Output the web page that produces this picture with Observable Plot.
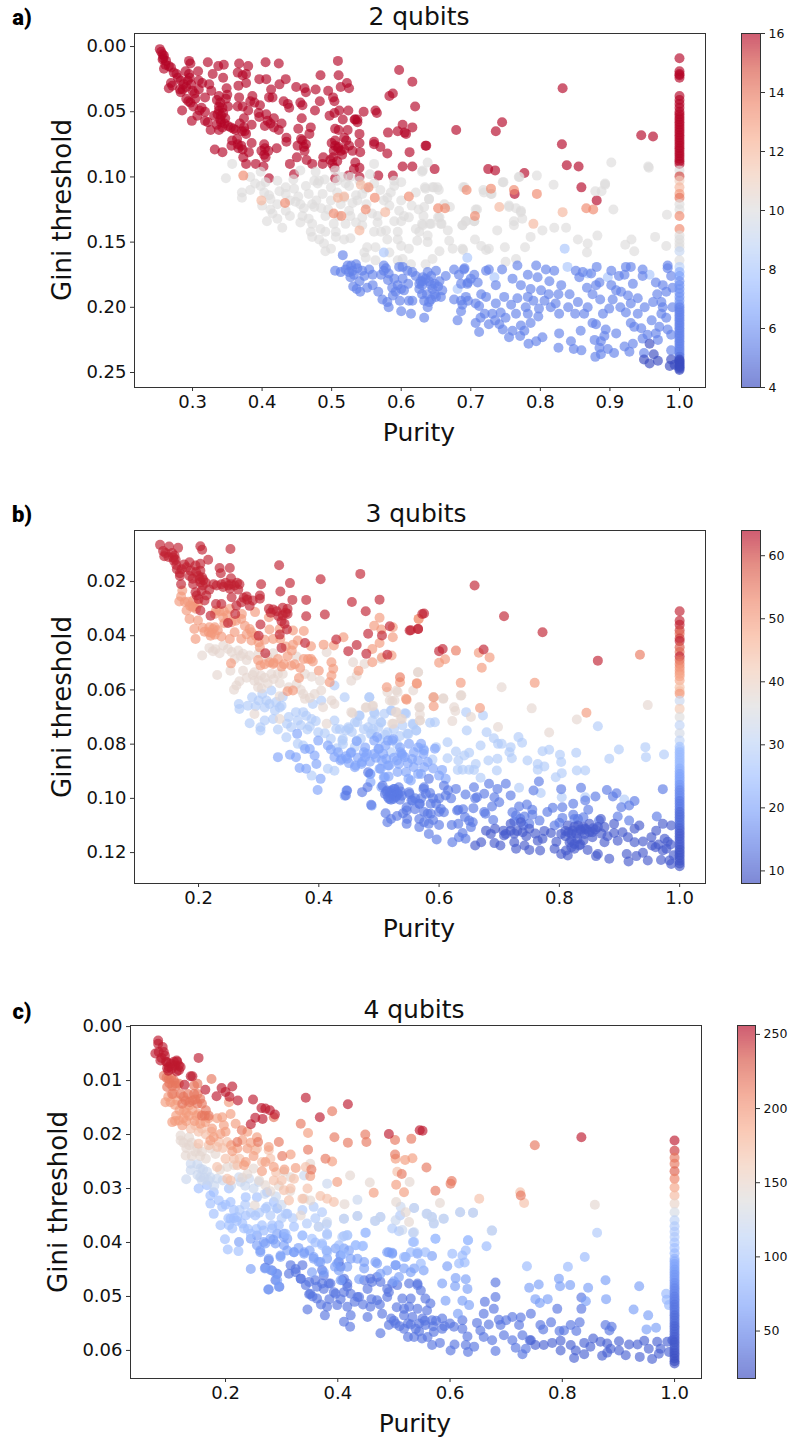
<!DOCTYPE html>
<html><head><meta charset="utf-8">
<script src="https://cdn.jsdelivr.net/npm/d3@7"></script>
<script src="https://cdn.jsdelivr.net/npm/@observablehq/plot@0.6"></script>
<style>
html,body{margin:0;padding:0;background:#fff}
#page{position:relative;width:788px;height:1440px;overflow:hidden;font-family:"DejaVu Sans",sans-serif;color:#111}
#page svg{position:absolute;display:block;background:transparent}
.t{position:absolute;white-space:nowrap;transform:translate(-50%,-50%)}
.title{font-size:25px}.xl{font-size:25px}.yl{font-size:26px;transform:translate(-50%,-50%) rotate(-90deg)}
.tag{font-family:Roboto,sans-serif;font-weight:900;font-size:22px;color:#000}
</style></head><body><div id="page"></div>
<script>
// Panel a (2 qubits): purity,gini pairs by rank
const a16=[.253,.002,.257,.006,.259,.007,.257,.010,.261,.014,.259,.017,.269,.016,.273,.020,.269,.028,.266,.032,.283,.026,.282,.033,.283,.035,.293,.026,.295,.021,.29,.019,.295,.011,.297,.013,.322,.012,.308,.019,.309,.026,.314,.028,.309,.033,.324,.029,.329,.021,.337,.015,.345,.014,.344,.024,.349,.032,.367,.013,.38,.015,.365,.02,.377,.021,.372,.022,.377,.028,.366,.03,.396,.025,.406,.025,.405,.012,.424,.013,.434,.025,.425,.029,.413,.033,.449,.031,.461,.032,.463,.035,.477,.033,.484,.022,.509,.011,.51,.022,.522,.028,.513,.031,.525,.032,.495,.034,.502,.039,.504,.042,.483,.042,.455,.043,.431,.042,.437,.044,.439,.047,.41,.039,.415,.039,.386,.038,.383,.042,.389,.043,.397,.045,.367,.039,.365,.046,.372,.046,.35,.037,.338,.038,.348,.04,.351,.046,.338,.046,.338,.049,.341,.053,.331,.053,.347,.055,.341,.058,.338,.064,.318,.039,.304,.04,.294,.042,.297,.043,.31,.049,.318,.05,.285,.049,.307,.053,.299,.057,.318,.057,.322,.058,.326,.064,.355,.062,.362,.064,.374,.055,.375,.065,.374,.062,.377,.067,.385,.06,.395,.051,.406,.052,.417,.055,.408,.057,.404,.061,.417,.062,.424,.064,.428,.059,.435,.07,.457,.055,.452,.063,.47,.062,.468,.067,.456,.071,.463,.075,.451,.076,.461,.08,.45,.085,.464,.087,.472,.09,.44,.09,.446,.098,.421,.078,.403,.075,.404,.078,.403,.083,.385,.074,.364,.071,.365,.075,.372,.079,.356,.076,.343,.081,.332,.079,.373,.085,.377,.09,.391,.09,.402,.092,.41,.101,.504,.051,.511,.049,.497,.053,.524,.049,.546,.05,.563,.049,.565,.051,.516,.056,.533,.056,.537,.058,.505,.063,.51,.064,.523,.064,.54,.067,.518,.07,.521,.072,.505,.072,.509,.078,.513,.08,.525,.076,.54,.074,.561,.073,.561,.075,.57,.077,.541,.081,.488,.085,.502,.085,.487,.09,.501,.09,.504,.093,.534,.089,.54,.093,.532,.094,.524,.099,.54,.1,.505,.101,.567,.099,.58,.082,.581,.066,.595,.065,.602,.06,.605,.066,.607,.067,.616,.062,.62,.046,.583,.038,.588,.036,.597,.018,.616,.027,.612,.081,.636,.076,.602,.092,.616,.092,.588,.099,.635,.076,.648,.094,.679,.064,.736,.065,.745,.058,.725,.094,.735,.095,.777,.097,.763,.113,.832,.032,.831,.075,.838,.091,.855,.092,.859,.108,.881,.118,.945,.068,.962,.069];
const a16More=[.255,.004,.258,.009,.262,.011,.266,.015,.277,.021,.279,.024,.271,.03,.287,.029,.291,.031,.286,.033,.296,.024,.298,.029,.3,.034,.303,.036,.291,.04,.301,.046,.313,.047,.327,.034,.335,.041,.34,.043,.343,.047,.336,.052,.344,.051,.34,.056,.346,.059,.335,.06,.343,.062,.351,.061,.359,.063,.368,.059,.371,.065,.38,.049,.396,.054,.412,.059,.357,.072,.366,.078,.37,.076,.381,.081,.399,.08,.405,.085,.409,.08,.435,.073,.458,.072,.46,.077,.5,.074,.505,.076,.51,.077,.515,.083,.518,.079,.503,.08,.498,.087,.508,.088,.534,.056,.537,.056,.458,.045,.476,.049,.53,.08];
const a135=[.694,.11,.729,.109,.762,.11,.795,.113,.653,.124,.663,.124,.706,.13,.866,.124,.876,.125,.373,.099,.433,.12,.503,.128,.514,.13,.549,.125,.562,.116,.553,.108,.611,.115];
const a12=[.741,.123,.832,.127,.79,.136,.399,.118,.577,.127,.509,.116,.518,.115,.54,.141,.542,.106];
const a10=[.348,.101,.357,.09,.371,.112,.371,.116,.383,.11,.398,.107,.398,.096,.383,.1,.403,.112,.41,.114,.412,.117,.4,.122,.412,.125,.415,.128,.407,.134,.422,.132,.429,.139,.44,.13,.434,.126,.422,.121,.422,.103,.434,.108,.434,.113,.446,.109,.448,.119,.455,.121,.463,.107,.467,.113,.475,.103,.477,.096,.48,.105,.472,.121,.475,.123,.458,.13,.455,.135,.467,.132,.472,.136,.47,.142,.472,.146,.482,.148,.489,.151,.491,.157,.499,.155,.484,.14,.491,.142,.503,.136,.506,.142,.506,.146,.518,.148,.527,.147,.52,.136,.527,.13,.525,.126,.491,.13,.499,.118,.508,.112,.518,.116,.535,.114,.537,.118,.544,.113,.525,.107,.508,.103,.499,.108,.487,.113,.482,.103,.455,.095,.561,.09,.58,.116,.583,.122,.566,.13,.566,.135,.561,.142,.571,.142,.578,.141,.58,.148,.595,.148,.6,.153,.611,.155,.597,.126,.604,.13,.59,.134,.6,.134,.595,.142,.611,.131,.621,.14,.626,.142,.623,.149,.638,.145,.638,.15,.631,.137,.643,.136,.655,.131,.657,.136,.667,.141,.669,.149,.674,.155,.688,.155,.688,.137,.635,.109,.645,.108,.652,.108,.64,.117,.633,.123,.621,.112,.59,.103,.6,.104,.59,.107,.563,.154,.547,.158,.551,.154,.549,.162,.563,.164,.583,.158,.595,.164,.602,.163,.614,.167,.635,.167,.645,.163,.655,.157,.544,.131,.544,.137,.535,.135,.549,.109,.527,.1,.561,.105,.631,.095,.638,.089,.691,.108,.707,.125,.693,.134,.705,.134,.688,.137,.746,.104,.718,.11,.729,.113,.755,.122,.765,.124,.772,.126,.774,.132,.762,.134,.762,.137,.738,.141,.795,.099,.77,.1,.819,.106,.803,.141,.786,.146,.82,.139,.837,.139,.854,.148,.868,.151,.867,.158,.882,.145,.893,.105,.888,.111,.879,.111,.905,.125,.955,.092,.902,.089,.982,.129,.965,.146,.981,.153,.931,.148,.922,.152,.935,.157,.706,.148,.715,.153,.726,.155,.722,.156,.749,.154,.778,.154,.689,.156,.75,.165,.765,.163,.956,.093,.893,.106,.769,.1,.747,.104,.63,.096,.634,.108,.647,.108,.654,.11,.689,.108,.719,.112,.73,.113,.64,.117,.67,.123,.662,.121,.653,.131,.641,.136,.63,.136,.658,.136,.693,.134,.705,.134,.709,.125,.755,.123,.772,.127];
const a10More=[.39,.105,.405,.104,.425,.111,.44,.118,.445,.102,.452,.115,.46,.124,.478,.118,.485,.124,.495,.125,.513,.121,.51,.13,.53,.12,.55,.121,.558,.128,.57,.11,.575,.118,.585,.112,.6,.118,.615,.122,.625,.125,.632,.13,.49,.102,.52,.105,.54,.103,.555,.098,.505,.095,.515,.1];
const a8=[.835,.155,.695,.162,.839,.169,.868,.174,.734,.177,.957,.175,.897,.177,.575,.158,.681,.186];
const a6=[.516,.16,.505,.172,.513,.173,.523,.168,.525,.173,.527,.177,.535,.167,.544,.172,.554,.171,.559,.175,.575,.168,.571,.175,.575,.172,.597,.169,.602,.169,.609,.172,.616,.173,.621,.176,.631,.177,.631,.18,.638,.173,.65,.172,.643,.176,.664,.176,.655,.18,.648,.182,.643,.183,.54,.18,.531,.184,.536,.186,.541,.188,.551,.185,.559,.183,.567,.188,.581,.179,.59,.178,.602,.178,.595,.183,.6,.186,.604,.187,.588,.191,.573,.194,.58,.196,.582,.2,.598,.195,.6,.203,.611,.195,.616,.195,.614,.205,.633,.208,.626,.186,.626,.182,.633,.195,.638,.2,.643,.194,.65,.192,.657,.192,.659,.187,.676,.171,.683,.175,.691,.17,.686,.182,.696,.181,.676,.194,.686,.195,.688,.198,.686,.203,.681,.21,.696,.195,.69,.171,.705,.175,.695,.182,.71,.181,.693,.192,.707,.197,.722,.172,.726,.171,.745,.171,.767,.168,.736,.183,.76,.178,.772,.183,.782,.175,.794,.168,.808,.171,.82,.172,.796,.177,.813,.18,.83,.183,.842,.19,.801,.187,.786,.186,.748,.192,.767,.193,.782,.192,.806,.195,.854,.196,.822,.197,.815,.2,.722,.192,.736,.197,.758,.198,.779,.2,.798,.201,.712,.199,.714,.208,.731,.205,.743,.204,.782,.205,.797,.207,.827,.205,.707,.212,.726,.213,.741,.213,.712,.219,.746,.217,.76,.218,.755,.223,.772,.214,.786,.212,.777,.218,.771,.222,.803,.223,.794,.226,.783,.228,.827,.22,.858,.218,.826,.231,.844,.226,.848,.232,.859,.233,.851,.172,.861,.173,.856,.177,.881,.169,.873,.174,.885,.181,.88,.183,.867,.185,.875,.19,.886,.194,.902,.172,.913,.176,.921,.175,.923,.169,.93,.169,.947,.171,.947,.176,.902,.183,.909,.187,.916,.188,.926,.191,.933,.182,.904,.194,.899,.201,.868,.2,.863,.205,.875,.212,.88,.213,.894,.217,.909,.22,.892,.222,.878,.225,.887,.226,.885,.231,.897,.232,.906,.235,.887,.236,.879,.238,.933,.228,.921,.23,.928,.234,.966,.181,.976,.183,.983,.168,.983,.17,.988,.176,.981,.188,.974,.196,.976,.2,.95,.2,.94,.193,.93,.197,.923,.204,.93,.212,.935,.215,.945,.216,.971,.215,.974,.205,.981,.208,.983,.217,.988,.221,.954,.221,.966,.22,.947,.224,.969,.225,.988,.233,.949,.235];
const a6More=[.52,.171,.528,.168,.532,.175,.53,.172,.537,.17,.547,.176,.578,.17,.582,.174,.63,.183,.635,.178,.628,.18,.64,.18,.653,.184,.645,.186,.637,.19,.648,.19,.64,.196,.63,.19,.61,.182,.587,.185,.592,.188,.7,.178,.715,.19,.72,.205,.735,.21,.75,.208,.765,.205,.79,.195,.812,.19,.826,.19,.84,.2,.85,.205,.89,.205,.915,.2,.94,.205,.96,.21,.962,.196,.968,.19,.99,.2,.99,.185];
const a4=[.957,.228,.963,.236,.949,.24,.957,.243,.969,.241,.988,.24,.986,.245,.993,.244];
const aColumn=[.009,16,.019,16,.021,16,.022,16,.024,16,.038,16,.041,16,.044,16,.047,16,.05,16,.052,16,.054,16,.056,16,.058,16,.06,16,.062,16,.064,16,.066,16,.068,16,.07,16,.072,16,.074,16,.076,16,.078,16,.08,16,.082,16,.084,16,.086,16,.088,16,.09,16,.095,10,.0996,15,.103,11,.108,12,.113,13,.116,14,.121,10,.125,10,.13,13.5,.14,13.5,.145,10,.148,10,.151,10,.154,10,.157,9,.164,10,.169,8.5,.173,7,.176,6.5,.18,6,.183,6,.186,6,.189,6,.192,6,.195,6,.198,6,.2,5.5,.202,5.5,.204,5.5,.206,5.5,.208,5.5,.21,5.5,.212,5.5,.214,5.5,.216,5.5,.218,5.5,.22,5.5,.222,5.5,.224,5.5,.226,5.5,.228,5.5,.23,5.5,.232,5.5,.234,5.5,.236,5.5,.238,5,.24,4,.241,4,.242,4,.243,4,.244,4,.245,4,.246,4,.247,4,.248,4];
// Panel b (3 qubits)
const b62=[.136,.0065,.151,.0071,.166,.0076,.203,.007,.206,.0083,.253,.008,.141,.0088,.143,.0107,.16,.0104,.159,.0123,.163,.0139,.176,.0137,.185,.0129,.195,.0141,.203,.0135,.216,.012,.203,.016,.235,.015,.237,.017,.252,.015,.334,.014,.169,.017,.169,.018,.185,.018,.19,.019,.171,.021,.191,.021,.203,.0203,.207,.0215,.218,.023,.238,.021,.241,.022,.254,.0188,.254,.021,.252,.0227,.268,.021,.266,.023,.304,.021,.352,.0206,.403,.0192,.469,.0172,.213,.0252,.197,.0252,.21,.027,.255,.0258,.302,.0252,.302,.0264,.336,.0237,.356,.0268,.379,.0268,.501,.0267,.455,.0276,.271,.0277,.281,.0267,.263,.0289,.285,.029,.203,.0307,.22,.0326,.229,.0283,.238,.0283,.261,.032,.317,.0301,.324,.0303,.34,.0297,.348,.0301,.333,.0328,.348,.032,.379,.0328,.41,.0322,.478,.031,.572,.032,.338,.0347,.343,.0356,.303,.0359,.249,.0353,.347,.0377,.518,.0365,.551,.0381,.565,.0375,.482,.0393,.505,.0399,.3,.04,.335,.0396,.429,.0414,.377,.0427,.449,.0457,.463,.0434,.479,.0467,.311,.0465,.338,.0445,.514,.047,.575,.0318,.565,.0375,.553,.038,.659,.0215,.708,.0328,.772,.0387,.864,.0492,.6,.0457,.606,.0449,.674,.0451];
const b62More=[.145,.0095,.15,.011,.156,.0095,.158,.0112,.162,.012,.164,.0155,.172,.0155,.18,.0148,.187,.016,.196,.0165,.2,.018,.202,.0192,.206,.0185,.208,.0195,.212,.0205,.225,.021,.23,.0215,.245,.0205,.25,.0215,.26,.0215,.264,.0205,.275,.026,.28,.0255,.29,.027,.195,.024,.2,.0265,.205,.0235,.32,.0315,.33,.031,.345,.0315,.34,.0325];
const b54=[.628,.0455,.934,.047,.535,.0553];
const b50=[.173,.0233,.168,.0274,.177,.0276,.18,.0307,.191,.027,.192,.0292,.199,.0283,.196,.0301,.185,.0338,.199,.0344,.193,.0375,.207,.0371,.195,.0412,.217,.0387,.218,.0369,.227,.0369,.227,.0396,.238,.0403,.252,.0412,.229,.0307,.227,.032,.241,.0334,.243,.0354,.252,.0301,.272,.032,.271,.0338,.26,.0387,.277,.0363,.285,.0375,.288,.0387,.271,.0412,.288,.0418,.294,.0313,.317,.0332,.318,.0377,.335,.0375,.336,.0412,.324,.0412,.302,.0443,.357,.0381,.375,.0383,.357,.0433,.365,.0418,.387,.0439,.408,.0433,.425,.0436,.441,.0406,.375,.0486,.387,.0486,.348,.0476,.332,.0486,.501,.0334,.492,.0363,.504,.0377,.523,.0406,.523,.0369,.501,.0427,.489,.0449,.489,.0498,.505,.048,.521,.0473,.466,.0529,.566,.0338,.513,.059,.535,.0572,.563,.0575,.254,.0502,.299,.049,.303,.051,.318,.0498,.324,.0504,.338,.0514,.354,.051,.369,.0519,.382,.0486,.4,.0529,.421,.0498,.424,.0522,.421,.0547,.418,.0572,.367,.0556,.348,.0605,.357,.0602,.566,.0338,.666,.0463,.684,.048,.6,.05,.61,.0487,.671,.0518,.636,.0574,.759,.0574,.563,.0577,.546,.0636,.545,.0633,.591,.0627,.668,.0667,.591,.066,.845,.0684];
const b50More=[.171,.0255,.183,.0275,.186,.029,.19,.0295,.21,.0385,.222,.039,.224,.0375,.232,.038,.22,.04,.235,.031,.242,.031,.248,.0325,.255,.035,.262,.0345,.28,.0395,.295,.04,.3,.0425,.31,.0415,.345,.044,.355,.0455,.31,.0505,.325,.05,.342,.0505,.36,.0505,.39,.0495];
const b38=[.206,.0473,.218,.0445,.224,.0457,.241,.0436,.249,.0449,.266,.0455,.274,.0467,.26,.0486,.285,.0473,.324,.0465,.231,.0545,.253,.0529,.274,.0529,.293,.0535,.304,.0547,.293,.0566,.299,.059,.321,.0541,.332,.0541,.34,.0541,.268,.0568,.263,.0584,.259,.0599,.363,.0477,.377,.0541,.388,.0551,.402,.0566,.404,.0602,.393,.0615,.374,.0615,.363,.0578,.335,.0623,.377,.0633,.421,.0639,.426,.0652,.407,.0664,.413,.0725,.457,.0498,.476,.0504,.454,.0566,.463,.0547,.504,.0486,.529,.0602,.518,.0639,.526,.0639,.565,.0535,.568,.0664,.568,.0713,.479,.0664,.49,.0658,.454,.0682,.529,.0682,.293,.0689,.335,.0707,.413,.0461,.538,.0707,.524,.0725,.565,.0535,.557,.0602,.59,.0627,.607,.0631,.636,.0621,.704,.059,.456,.0686,.478,.0666,.489,.066,.528,.0682,.522,.0641,.514,.0608,.531,.0608,.567,.0664,.568,.0691,.568,.0713,.591,.0627,.607,.0633,.637,.062,.625,.0664,.627,.0678,.622,.0715,.754,.0668,.947,.0656,.829,.0709,.783,.0757,.698,.0737,.522,.0725,.536,.0707,.653,.07];
const b38More=[.228,.045,.235,.0465,.255,.046,.27,.0475,.28,.049,.29,.0545,.3,.0565,.31,.0555,.315,.0575,.305,.0595,.325,.056,.335,.0575,.28,.0555,.3,.0465,.315,.048,.35,.059,.37,.06,.385,.063];
const b28=[.267,.0652,.268,.067,.282,.0658,.289,.0627,.3,.0639,.306,.0615,.321,.0602,.313,.0639,.318,.0652,.329,.0645,.338,.0658,.327,.0676,.285,.0723,.303,.0738,.303,.075,.31,.0713,.324,.0707,.332,.0746,.347,.0725,.354,.0738,.365,.0713,.362,.0682,.374,.0682,.379,.0695,.388,.0707,.39,.0652,.404,.0639,.426,.0584,.443,.0627,.484,.0627,.381,.0746,.399,.0756,.346,.0775,.426,.0713,.429,.0744,.44,.0781,.449,.0738,.468,.0695,.46,.072,.482,.0738,.488,.0762,.499,.0738,.502,.0781,.493,.0689,.504,.072,.521,.0676,.543,.0686,.557,.0728,.549,.0762,.562,.075,.415,.0891,.426,.0898,.388,.0916,.374,.0805,.365,.0799,.484,.0627,.464,.0719,.467,.0694,.492,.0682,.509,.0688,.503,.0719,.489,.0713,.556,.0725,.562,.075,.539,.0731,.547,.0762,.545,.0688,.52,.0676,.514,.0756,.486,.0762,.445,.075,.45,.0743,.439,.0787,.463,.0787,.585,.0721,.593,.0719,.646,.075,.645,.0682,.673,.0694,.679,.0756,.691,.0778,.698,.0799,.704,.0799,.669,.0805,.719,.0811,.717,.083,.721,.0852,.738,.0795,.732,.0774,.772,.0826,.783,.0821,.801,.0839,.803,.0866,.828,.0832,.829,.0897,.843,.0897,.864,.0734,.883,.0854,.899,.082,.943,.0811,.944,.0848,.974,.0838,.764,.0873,.775,.0882,.764,.0894,.794,.0922,.804,.0907,.747,.086,.697,.0854,.696,.0897,.682,.086,.661,.0873,.658,.0895,.65,.0894,.631,.0895,.639,.0894,.628,.0827,.65,.0832,.642,.0842,.614,.0793,.614,.0852,.589,.0857,.595,.0811,.574,.0817,.632,.086,.669,.0924,.733,.0961,.769,.098,.908,.1004,.804,.0996,.843,.0996];
const b28More=[.295,.066,.31,.0665,.335,.0665,.34,.0625,.35,.07,.37,.073,.385,.0735,.395,.0715,.41,.076,.42,.078,.435,.0745,.455,.0755,.475,.0745,.47,.078,.49,.0745,.51,.0765,.525,.0745,.535,.077,.53,.08,.52,.083,.46,.081,.44,.08,.43,.0815];
const b20=[.364,.0762,.332,.0848,.352,.0839,.362,.0848,.368,.0888,.379,.0891,.377,.0818,.385,.0818,.393,.0842,.396,.0873,.399,.0787,.415,.0805,.426,.0848,.438,.0855,.454,.083,.463,.0789,.477,.0812,.46,.0885,.471,.0873,.477,.0848,.499,.0818,.507,.0836,.515,.0787,.524,.0781,.535,.0812,.515,.0879,.538,.0836,.543,.0848,.565,.0812,.574,.0836,.501,.0891,.485,.091,.549,.0928,.565,.091,.403,.0928,.398,.0969,.446,.0971,.443,.099,.488,.1027,.504,.0959,.51,.0922,.447,.0854,.436,.086,.453,.0833,.461,.0879,.472,.0866,.475,.083,.492,.0836,.5,.0817,.511,.0805,.522,.0787,.536,.083,.539,.0842,.533,.0873,.55,.0799,.558,.083,.57,.0799,.575,.0823,.593,.0817,.517,.0879,.503,.0891,.531,.0903,.545,.0903,.558,.0885,.581,.0866,.57,.091,.6,.0916,.611,.0928,.553,.0934,.486,.091,.486,.094,.508,.0922,.516,.0919,.492,.0787,.497,.0774];
const b20More=[.42,.082,.432,.083,.445,.0845,.45,.087,.465,.085,.48,.0835,.485,.0865,.495,.085,.505,.086,.512,.0855,.525,.085,.53,.086,.548,.087,.555,.0855,.565,.086,.575,.0885,.59,.089,.605,.0895];
const b14=[.518,.0978,.526,.0965,.532,.0984,.515,.0996,.524,.1002,.551,.0984,.554,.1008,.546,.1033,.568,.1021,.574,.0965,.51,.0984,.482,.0904,.447,.0971,.445,.0989,.472,.0977,.481,.0959,.487,.1024,.506,.0953,.514,.0971,.525,.0965,.533,.0959,.517,.1002,.528,.0996,.55,.0977,.556,.1008,.567,.102,.578,.0983,.575,.0959,.583,.0928,.586,.102,.595,.102,.581,.1057,.603,.1039,.608,.1051,.567,.1076,.575,.1088,.586,.1057,.511,.1055,.52,.1076,.514,.1088,.546,.1045,.547,.1076,.546,.1094,.567,.1106,.583,.1094,.583,.1131,.6,.1098,.596,.1152,.621,.1098,.632,.1094,.622,.1162,.639,.1128,.644,.1149,.633,.1143,.643,.1069,.65,.1082,.656,.1088,.653,.1106,.632,.1042,.657,.1036,.677,.1057,.688,.103,.7,.1014,.675,.0983,.663,.0996,.644,.0986,.658,.0959,.628,.0965,.611,.0989,.608,.0953,.683,.0946,.697,.0965,.711,.0946,.692,.0996,.719,.0989,.733,.103,.746,.1023,.755,.1042,.757,.0971,.766,.0938,.803,.0966,.836,.0961,.86,.0993,.879,.0969,.889,.0993,.895,.0981,.925,.101,.916,.1026,.903,.1033,.823,.102,.789,.1035,.805,.1033,.805,.1072,.823,.106,.848,.1042,.843,.1008,.728,.1063,.722,.1051,.742,.1067,.767,.1082,.75,.1094,.792,.11,.825,.1076,.831,.1076,.866,.1082,.897,.1067,.916,.1082,.962,.1067,.972,.0966];
const b14More=[.52,.0972,.53,.0978,.522,.0985,.529,.099,.536,.0975,.538,.099,.512,.0975,.52,.1005,.535,.1005,.56,.1,.57,.1,.585,.098,.59,.1,.6,.1,.615,.097,.62,.1,.63,.1045,.64,.104,.6,.105,.59,.108,.575,.105,.56,.104,.54,.1055,.53,.1065,.66,.1,.675,.105,.69,.108,.735,.1075,.725,.1085,.74,.11,.755,.106,.78,.105,.8,.109,.84,.107];
const b10=[.678,.1119,.686,.1131,.693,.1112,.707,.1119,.711,.1131,.719,.1119,.708,.1137,.739,.1125,.75,.1112,.719,.1094,.736,.1088,.786,.1128,.803,.1131,.814,.11,.822,.1119,.831,.11,.842,.1131,.85,.1094,.864,.1106,.869,.1076,.875,.1106,.842,.1112,.855,.1143,.891,.1094,.891,.1128,.905,.1125,.914,.1143,.925,.1162,.925,.1112,.933,.11,.897,.1156,.875,.1162,.825,.1168,.833,.1174,.817,.1162,.847,.119,.825,.1186,.792,.1186,.814,.1211,.803,.1205,.811,.1192,.772,.1149,.764,.1156,.742,.1174,.75,.119,.725,.1162,.728,.1186,.768,.1192,.692,.1165,.702,.1174,.66,.1174,.67,.1162,.864,.1205,.861,.1213,.883,.1223,.912,.1205,.915,.1233,.928,.1213,.939,.1201,.939,.1159,.953,.1143,.954,.1174,.947,.1229,.961,.1119,.972,.1094,.986,.11,.975,.1149,.972,.1192,.969,.1227,.983,.1229,.978,.1186,.986,.1242];
const b10More=[.815,.1125,.82,.113,.825,.1105,.828,.113,.835,.1115,.836,.112,.84,.1105,.845,.1115,.85,.1125,.856,.111,.86,.1115,.81,.114,.83,.115,.82,.1155,.84,.1155,.855,.1125,.87,.113,.88,.114,.835,.117,.82,.118,.725,.113,.73,.112,.745,.114,.76,.113,.775,.112,.795,.116,.81,.112,.96,.118,.965,.117,.98,.116,.99,.121,.985,.117];
const bColumn=[.031,62,.0345,62,.036,62,.038,60,.0393,56,.041,60,.042,62,.0443,58,.046,56,.0477,62,.049,56,.0504,54,.0517,52,.0529,50,.054,50,.055,48,.0565,48,.059,44,.0605,44,.0614,50,.064,32,.067,42,.07,36,.073,30,.076,34,.0787,30,.081,26,.082,26,.083,24,.084,24,.085,24,.086,24,.087,24,.088,24,.089,22,.09,22,.091,20,.092,20,.093,20,.094,20,.095,18,.096,18,.097,16,.098,16,.099,16,.1,16,.101,14,.102,14,.103,14,.104,14,.105,12,.106,12,.107,12,.108,12,.109,12,.11,12,.111,11,.112,11,.113,10,.114,10,.115,10,.116,10,.117,10,.118,10,.119,9,.12,9,.121,9,.122,9,.123,9,.124,9,.125,9];
// Panel c (4 qubits)
const c250=[.08,.0026,.08,.0032,.088,.0038,.075,.005,.081,.0047,.092,.0054,.084,.0063,.096,.0066,.113,.0063,.117,.0072,.096,.0077,.117,.0081,.152,.0058,.138,.0092,.141,.0092,.127,.0108,.164,.0117,.193,.0114,.212,.0111,.2,.0121,.184,.0129,.207,.013,.222,.0137,.249,.0135,.343,.0132,.418,.0144,.264,.0151,.271,.0152,.279,.0155,.288,.0163,.253,.0169,.266,.0171,.245,.0181,.368,.0168,.491,.0199,.546,.0192,.551,.0193,.834,.0205,.086,.0058,.09,.0047,.094,.0065,.099,.0075,.103,.0069,.108,.0065,.11,.0072,.114,.0065,.12,.0075,.098,.0082,.104,.0078,.113,.0083];
const c215=[.09,.0091,.099,.0097,.108,.01,.096,.0112,.105,.0125,.117,.0106,.144,.0109,.15,.0106,.144,.0125,.155,.0134,.123,.0143,.129,.0137,.15,.0143,.141,.0137,.158,.0143,.175,.0097,.17,.0165,.158,.0165,.39,.0157,.334,.018,.286,.0168,.295,.0214,.347,.0228,.394,.0205,.418,.0215,.449,.02,.451,.0214,.502,.021,.531,.0208,.502,.0237,.378,.0245,.514,.0273,.353,.0265,.301,.024,.258,.0214,.221,.0214,.229,.0192,.751,.022,.558,.0261,.601,.0291,.603,.0286,.574,.0304,.726,.0313,.095,.0095,.103,.0095,.111,.0105,.1,.0105,.105,.011,.112,.011,.12,.0125,.125,.013,.133,.0125,.136,.014,.146,.0135,.15,.0125,.163,.0165,.165,.0155];
const c195=[.108,.0125,.114,.0137,.093,.014,.102,.014,.126,.0155,.135,.0146,.141,.0155,.152,.0162,.164,.0177,.117,.0174,.105,.0177,.123,.0183,.176,.0189,.194,.0168,.209,.0162,.197,.0183,.191,.0199,.206,.014,.218,.018,.239,.0195,.347,.0197,.256,.0205,.221,.0226,.212,.0231,.239,.0226,.277,.0223,.316,.0237,.39,.025,.52,.0247,.533,.0244,.503,.0245,.399,.0288,.504,.0293,.518,.0307,.464,.0308,.351,.0277,.325,.0262,.305,.0265,.286,.026,.271,.0251,.236,.0251,.233,.0257,.265,.0268,.179,.0205,.173,.0211,.098,.013,.11,.0145,.118,.0155,.13,.016,.112,.0165,.125,.017,.135,.0165,.148,.0165,.11,.0175,.13,.0175,.145,.0175,.155,.018,.17,.017,.185,.017,.2,.0195,.21,.022,.23,.021,.245,.0215,.25,.024];
const c170=[.146,.0183,.152,.0195,.138,.0189,.158,.0189,.203,.0214,.188,.0214,.185,.0223,.256,.0226,.277,.0229,.253,.0229,.152,.0217,.203,.0282,.209,.0285,.286,.0285,.322,.0282,.316,.03,.304,.0303,.343,.026,.346,.03,.369,.0314,.381,.0319,.313,.0322,.337,.0319,.393,.0325,.506,.0269,.265,.0251,.28,.0245,.185,.026,.221,.0257,.725,.0307,.732,.0327,.652,.0319,.165,.02,.175,.0195,.17,.022,.195,.0225,.2,.0245,.215,.0245,.225,.0245,.29,.027,.3,.0285];
const c145=[.12,.0202,.135,.0205,.12,.0211,.135,.022,.129,.0239,.146,.0232,.158,.0232,.173,.0226,.182,.0236,.203,.026,.215,.0257,.239,.0273,.25,.0263,.271,.0294,.304,.0269,.351,.0254,.422,.0276,.457,.0289,.528,.0288,.504,.0325,.521,.0344,.527,.0362,.316,.0279,.34,.0319,.351,.0322,.412,.0329,.252,.0331,.334,.035,.582,.0327,.858,.033,.125,.0215,.13,.0225,.14,.024,.15,.0225,.155,.024,.165,.0245,.14,.0215,.19,.0265,.23,.028,.26,.0285,.28,.0305,.295,.0295,.315,.0305];
const c120=[.13,.0283,.138,.0254,.138,.0266,.155,.0263,.155,.0279,.167,.0269,.158,.0285,.173,.0279,.185,.0282,.224,.0279,.227,.0288,.242,.0282,.259,.0288,.34,.0276,.381,.0291,.435,.0321,.503,.0359,.466,.036,.476,.0353,.411,.0356,.435,.0351,.512,.0334,.536,.0336,.515,.0377,.536,.0381,.366,.0371,.381,.0362,.558,.0347,.567,.0353,.571,.0364,.588,.0356,.618,.0344,.641,.0345,.674,.0378,.15,.0255,.16,.0265,.15,.0275,.162,.028,.17,.0285,.18,.0295,.195,.0285,.21,.0295,.235,.0295,.25,.03,.27,.031,.29,.0315,.3,.033];
const c100=[.274,.0334,.292,.0337,.307,.0347,.337,.034,.357,.0334,.372,.0344,.411,.0356,.435,.0351,.467,.036,.476,.0353,.497,.0374,.509,.0379,.511,.035,.536,.0336,.559,.0347,.568,.0353,.571,.0365,.589,.0356,.618,.0344,.641,.0345,.675,.0378,.862,.0382,.534,.0382,.366,.0371,.38,.0366,.381,.0386,.408,.039,.417,.0386,.225,.034,.235,.033,.245,.0345,.26,.0345,.28,.035,.3,.0355,.32,.0355,.345,.0365,.36,.0355];
const c90=[.152,.03,.167,.0294,.179,.0307,.173,.0313,.173,.0328,.188,.0322,.179,.0347,.194,.0334,.206,.03,.209,.0325,.215,.034,.236,.0316,.256,.0316,.274,.0307,.286,.0325,.271,.0337,.253,.035,.236,.035,.209,.0356,.221,.0353,.206,.0368,.212,.0374,.191,.0368,.199,.0394,.204,.0413,.223,.0416,.265,.0368,.283,.0368,.31,.0347,.292,.0337,.322,.0371,.337,.0387,.381,.0384,.417,.0387,.411,.0388,.449,.0382,.536,.0399,.432,.0405,.445,.0406,.354,.0393,.372,.0405,.233,.0374,.245,.0384,.574,.0393,.632,.0396,.2,.033,.215,.0355,.205,.0355,.22,.036,.23,.0365,.24,.0375,.255,.0375];
const c85=[.268,.0378,.283,.0374,.295,.0368,.307,.0384,.337,.0387,.45,.0382,.36,.04,.372,.0402,.534,.0399,.574,.0393,.632,.0396,.665,.0407,.432,.0405,.444,.0407,.381,.0418,.402,.0405,.411,.0421,.604,.0421,.622,.0424,.628,.0415,.616,.0439,.626,.0437,.737,.0444,.81,.0445,.84,.0427,.985,.0495,.986,.0506,.99,.0516,.53,.0418,.542,.0418,.518,.0427,.556,.0418,.548,.0439];
const c65=[.224,.0399,.245,.0393,.256,.0387,.256,.0405,.268,.0399,.28,.0393,.292,.0384,.304,.0384,.31,.0393,.304,.0405,.262,.0418,.277,.043,.298,.0424,.322,.0418,.34,.0421,.357,.043,.369,.0436,.396,.0411,.405,.0424,.411,.0411,.381,.043,.423,.043,.447,.0448,.47,.0439,.488,.0418,.497,.0421,.521,.0427,.542,.0421,.503,.0442,.536,.0448,.245,.0449,.27,.0448,.28,.0451,.29,.0458,.292,.047,.295,.0482,.276,.0487,.262,.0415,.271,.0402,.289,.0402,.304,.039,.298,.0427,.322,.0418,.34,.0418,.357,.0427,.366,.0436,.405,.0424,.399,.0439,.417,.0445,.447,.0436,.467,.0436,.491,.0418,.497,.0419,.503,.0442,.518,.0448,.53,.0455,.488,.0452,.476,.0458,.375,.0455,.354,.0455,.402,.0452,.438,.0468,.405,.047,.5,.0472,.509,.0464,.553,.0452,.568,.0425,.586,.0476,.61,.0466,.628,.0468,.609,.0481,.631,.0486,.592,.0508,.622,.0508,.634,.0516,.741,.0484,.758,.0478,.794,.0467,.796,.0481,.814,.0479,.846,.0484,.877,.047,.937,.0481,.878,.0505,.752,.0505,.774,.0505,.76,.0512,.842,.0509,.927,.0524,.953,.0535,.95,.0561,.967,.0558,.614,.0532,.595,.0444,.285,.0395,.31,.0415,.33,.041,.35,.0415,.38,.0415,.395,.0445,.42,.0415,.435,.043];
const c40=[.316,.0442,.325,.0455,.334,.0467,.343,.0479,.351,.0495,.372,.0451,.375,.0461,.372,.0476,.387,.0476,.402,.0436,.405,.0445,.408,.047,.417,.0476,.447,.047,.458,.0467,.476,.0473,.491,.0492,.506,.0479,.527,.0476,.542,.0479,.393,.0492,.411,.0492,.435,.0501,.277,.0433,.271,.0447,.283,.0452,.292,.0458,.289,.047,.277,.0487,.296,.0482,.313,.0458,.325,.0449,.337,.0442,.334,.0467,.349,.0473,.36,.047,.363,.0482,.349,.0496,.375,.0486,.363,.0504,.384,.0476,.396,.0495,.411,.0467,.417,.0482,.423,.0495,.438,.0501,.453,.0486,.461,.0473,.47,.0464,.488,.0486,.497,.0476,.47,.0507,.488,.0501,.458,.0519,.417,.0519,.399,.0516,.381,.0519,.346,.0524,.377,.0535,.423,.0535,.411,.0547,.422,.0556,.453,.0538,.479,.0532,.515,.0504,.53,.0504,.542,.0476,.548,.0489,.556,.0504,.565,.0513,.527,.0519,.542,.0523,.559,.0526,.518,.0523,.495,.0541,.518,.0535,.533,.0538,.551,.0541,.568,.0544,.586,.0541,.622,.0544,.476,.0568,.491,.0553,.503,.055,.518,.056,.539,.056,.556,.0553,.571,.0566,.586,.056,.607,.0556,.622,.056,.536,.0575,.55,.0578,.568,.059,.582,.0586,.601,.06,.608,.0589,.631,.0574,.628,.059,.643,.0593,.632,.0603,.675,.0581,.681,.0601,.648,.0549,.669,.0552,.654,.0563,.66,.0575,.66,.0532,.678,.0523,.681,.0501,.662,.051,.681,.0474,.687,.0543,.7,.0544,.69,.0553,.696,.0572,.711,.0538,.726,.0539,.723,.0553,.711,.0581,.729,.0572,.717,.0595,.735,.0597,.729,.0607,.742,.0581,.761,.0553,.766,.0561,.78,.0548,.795,.0564,.803,.0563,.791,.0523,.744,.0532,.815,.0553,.831,.0548,.825,.0564,.834,.0523,.834,.0502,.877,.0553,.888,.0556,.884,.0563,.5,.0545,.51,.0555,.525,.055,.53,.0552,.545,.055,.555,.0545,.57,.0555,.575,.0545,.59,.0555,.6,.055,.525,.0575,.545,.0565,.56,.0575,.355,.05,.37,.0515,.385,.0505,.405,.0505,.43,.051,.445,.0515,.46,.0505,.475,.0515,.505,.052];
const c30=[.744,.0581,.752,.059,.767,.059,.782,.0586,.797,.0582,.797,.06,.815,.059,.824,.06,.821,.0614,.839,.0586,.85,.0593,.839,.0607,.855,.0578,.868,.0584,.88,.0587,.871,.061,.886,.0597,.88,.0604,.901,.0583,.901,.06,.913,.0609,.919,.0589,.934,.0589,.946,.0582,.938,.0612,.954,.0597,.96,.0616,.969,.0584,.975,.0597,.972,.0606,.987,.0584,.996,.0581,.99,.0603];
const cColumn=[.0211,250,.023,240,.0243,215,.0254,215,.0268,225,.0282,210,.0298,190,.0313,175,.0328,150,.0344,130,.0359,110,.037,100,.038,100,.039,100,.04,95,.041,90,.042,85,.043,80,.0435,75,.044,70,.0445,70,.045,65,.0455,65,.046,60,.0465,60,.047,60,.0475,55,.048,55,.0485,50,.049,50,.0495,50,.05,45,.0505,45,.051,45,.0515,40,.052,40,.0525,40,.053,40,.0535,35,.054,35,.0545,35,.055,35,.0555,30,.056,30,.0565,30,.057,30,.0575,28,.058,28,.0585,25,.059,25,.0595,25,.06,25,.0605,22,.061,22,.0615,20,.062,20,.0624,20];

const coolwarm=["#3b4cc0","#5977e3","#7b9ff9","#9ebeff","#c0d4f5","#dddcdc","#f2cbb7","#f7ac8e","#ee8468","#d65244","#b40426"];
const cw=d3.piecewise(d3.interpolateRgb,coolwarm);
const alpha=.65;
function pts(flat,rank){const o=[];for(let i=0;i<flat.length;i+=2)o.push({purity:flat[i],gini:flat[i+1],rank});return o;}
function col(flat){const o=[];for(let i=0;i<flat.length;i+=2)o.push({purity:1,gini:flat[i],rank:flat[i+1]});return o;}
const page=document.getElementById("page");
function label(cls,text,x,y){const d=document.createElement("div");d.className="t "+cls;d.textContent=text;d.style.left=x+"px";d.style.top=y+"px";page.appendChild(d);}
function panel(o){
  const H=o.bottom-o.top+60;
  const svg=Plot.plot({width:788,height:H,marginTop:10,marginBottom:50,marginLeft:o.left,marginRight:788-o.right,
    x:{domain:o.xDomain},y:{domain:o.yDomain},
    color:{type:"linear",domain:o.rankDomain,interpolate:cw},
    style:{background:"transparent",color:"#111",fontFamily:"DejaVu Sans"},
    marks:[
      Plot.dot(o.data,{x:"purity",y:"gini",fill:"rank",r:5,fillOpacity:alpha,stroke:"none"}),
      Plot.frame({stroke:"#333",strokeWidth:1}),
      Plot.axisX({ticks:o.xTicks,tickFormat:".1f",tickSize:4,tickPadding:4,fontSize:18,label:null,stroke:"#333"}),
      Plot.axisY({ticks:o.yTicks,tickFormat:".2f",tickSize:4,tickPadding:4,fontSize:18,label:null,stroke:"#333"})
    ]});
  svg.style.left="0px";svg.style.top=(o.top-10)+"px";page.appendChild(svg);
  const [r0,r1]=o.rankDomain;
  const step=(r1-r0)/200;
  const levels=d3.range(0,200).map(i=>r0+step*i);
  const bar=Plot.plot({width:60,height:H,marginTop:10,marginBottom:50,marginLeft:0,marginRight:60-(o.barX2-o.barX1),
    x:{domain:[0,1],axis:null},y:{domain:[r0,r1]},
    color:{type:"linear",domain:o.rankDomain,interpolate:cw},
    style:{background:"transparent",color:"#111",fontFamily:"DejaVu Sans"},
    marks:[
      Plot.rect(levels,{x1:0,x2:1,y1:d=>d,y2:d=>Math.min(r1,d+step*1.6),fill:d=>d}),
      Plot.rect([0],{x1:0,x2:1,y1:r0,y2:r1,fill:"white",fillOpacity:1-alpha}),
      Plot.frame({stroke:"#333",strokeWidth:1}),
      Plot.axisY({anchor:"right",ticks:o.barTicks,tickSize:4,tickPadding:4,fontSize:12.5,label:null,stroke:"#333"})
    ]});
  bar.style.left=o.barX1+"px";bar.style.top=(o.top-10)+"px";page.appendChild(bar);
  label("title",o.title,o.titleX,o.titleY);
  label("xl","Purity",o.titleX+o.xlDx,o.xlY);
  label("yl","Gini threshold",o.ylX,(o.top+o.bottom)/2);
  label("tag",o.tag,o.tagX,o.tagY);
}
panel({title:"2 qubits",tag:"a)",tagX:22,tagY:17,titleX:419,titleY:16,xlDx:0,xlY:432,ylX:62,top:33,bottom:387,left:134,right:705,
  xDomain:[.2166,1.0374],yDomain:[.2615,-.01],rankDomain:[4,16],barX1:741,barX2:760,
  xTicks:[.3,.4,.5,.6,.7,.8,.9,1],yTicks:[0,.05,.1,.15,.2,.25],barTicks:[4,6,8,10,12,14,16],
  data:[...pts(a16,16),...pts(a16More,16),...pts(a10,10),...pts(a10More,10),...pts(a135,13.5),...pts(a12,12),...pts(a8,8),...pts(a6,5.5),...pts(a6More,5.5),...pts(a4,4),...col(aColumn)]});
panel({title:"3 qubits",tag:"b)",tagX:22,tagY:514,titleX:416,titleY:513,xlDx:3,xlY:928,ylX:62,top:530,bottom:883,left:134,right:705,
  xDomain:[.0935,1.043],yDomain:[.1314,.0012],rankDomain:[8,64],barX1:741,barX2:760,
  xTicks:[.2,.4,.6,.8,1],yTicks:[.02,.04,.06,.08,.1,.12],barTicks:[10,20,30,40,50,60],
  data:[...pts(b28,28),...pts(b28More,28),...pts(b20,20),...pts(b20More,20),...pts(b14,14),...pts(b14More,14),...pts(b10,10),...pts(b10More,10),...pts(b38,38),...pts(b38More,38),...pts(b50,50),...pts(b50More,50),...pts(b54,54),...pts(b62,62),...pts(b62More,62),...col(bColumn)]});
panel({title:"4 qubits",tag:"c)",tagX:22,tagY:1011,titleX:414,titleY:1009,xlDx:1,xlY:1423,ylX:58,top:1025,bottom:1378,left:130,right:701,
  xDomain:[.0307,1.048],yDomain:[.0652,-.0002],rankDomain:[18,256],barX1:737,barX2:755,
  xTicks:[.2,.4,.6,.8,1],yTicks:[0,.01,.02,.03,.04,.05,.06],barTicks:[50,100,150,200,250],
  data:[...pts(c40,40),...pts(c30,30),...pts(c65,65),...pts(c85,85),...pts(c90,90),...pts(c100,100),...pts(c120,120),...pts(c145,145),...pts(c170,170),...pts(c195,195),...pts(c215,215),...pts(c250,250),...col(cColumn)]});
</script></body></html>
